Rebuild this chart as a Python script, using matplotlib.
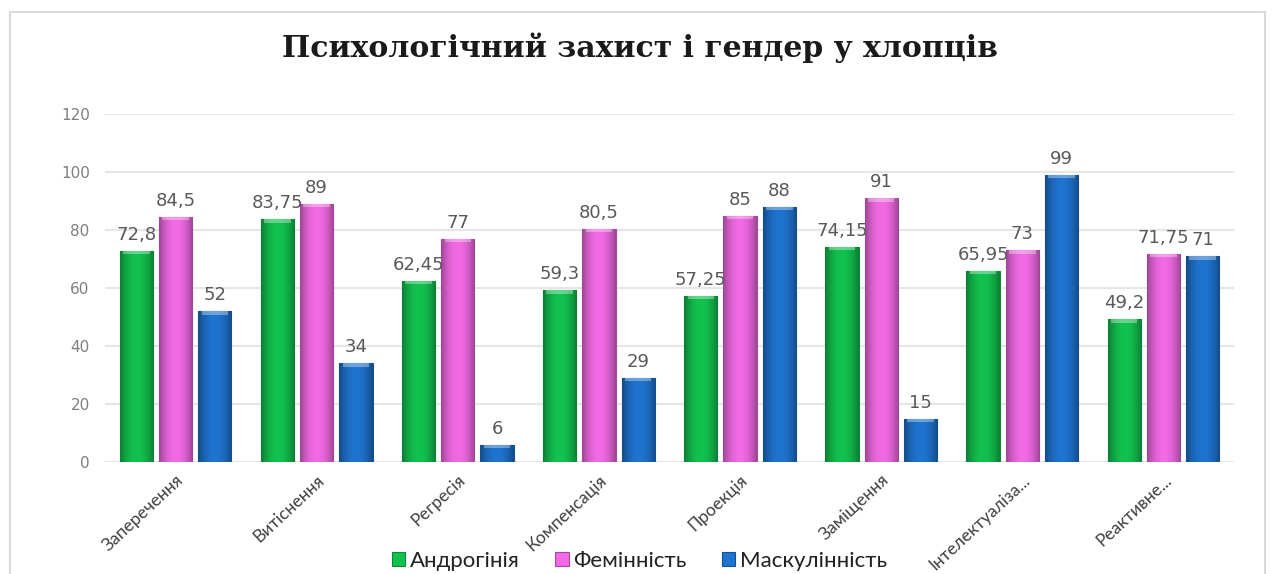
import matplotlib
matplotlib.use("Agg")
import matplotlib.pyplot as plt
import numpy as np
from matplotlib.patches import Rectangle
from matplotlib.colors import to_rgb

categories = ["Заперечення", "Витіснення", "Регресія", "Компенсація", "Проекція",
              "Заміщення", "Інтелектуаліза...", "Реактивне..."]
androgyny = [72.8, 83.75, 62.45, 59.3, 57.25, 74.15, 65.95, 49.2]
femininity = [84.5, 89, 77, 80.5, 85, 91, 73, 71.75]
masculinity = [52, 34, 6, 29, 88, 15, 99, 71]
series_names = ["Андрогінія", "Фемінність", "Маскулінність"]
colors = ["#12c24f", "#f26ae4", "#1f74d0"]
yticks = [0, 20, 40, 60, 80, 100, 120]
title = "Психологічний захист і гендер у хлопців"


def fmt(v):
    s = ("%g" % v).replace(".", ",")
    return s


fig = plt.figure(figsize=(12.79, 5.74), dpi=100)
fig.patch.set_facecolor("white")
fig.patches.append(Rectangle((10 / 1279, -0.1), (1265 - 10) / 1279, 1.1 - 12 / 574,
                             transform=fig.transFigure, fill=False,
                             edgecolor="#d9d9d9", linewidth=1.5))

ax = fig.add_axes([105 / 1279, 1 - 462 / 574, (1234 - 105) / 1279, (462 - 114) / 574])
x = np.arange(len(categories))
width = 0.235
offset = 0.278
data = [androgyny, femininity, masculinity]

for i, (vals, c, name) in enumerate(zip(data, colors, series_names)):
    bars = ax.bar(x + (i - 1) * offset, vals, width, color=c, label=name,
                  edgecolor=tuple(v * 0.7 for v in to_rgb(c)), linewidth=0.8, zorder=2)
    base = np.array(to_rgb(c))
    shade = np.linspace(-1, 1, 64)
    k = 1 - 0.35 * shade ** 2
    grad = np.clip(base[None, :] * k[:, None], 0, 1)[None, :, :]
    for b in bars:
        bx, by = b.get_x(), b.get_y()
        bw, bh = b.get_width(), b.get_height()
        im = ax.imshow(grad, extent=(bx, bx + bw, by, by + bh), aspect="auto",
                       zorder=2.1, interpolation="bicubic")
        im.set_clip_path(b)
        ax.bar(bx + bw / 2, min(1.2, bh), bw * 0.8, bottom=by + bh - min(1.2, bh),
               color="white", alpha=0.35, linewidth=0, zorder=2.2)
        ax.annotate(fmt(b.get_height()), (bx + bw / 2, by + bh), xytext=(0, 5),
                    textcoords="offset points", ha="center", va="bottom",
                    fontsize=13, color="#595959", family="DejaVu Sans", zorder=3)

ax.set_xlim(-0.5, len(categories) - 0.5)
ax.set_ylim(0, 120)
ax.set_yticks(yticks)
ax.set_yticklabels([str(t) for t in yticks], color="#7f7f7f", fontsize=11,
                   family="DejaVu Sans")
ax.yaxis.grid(True, color="#e6e6e6", linewidth=1.5, zorder=0)
ax.set_axisbelow(True)
ax.tick_params(axis="y", length=0, pad=11)
ax.tick_params(axis="x", length=0, pad=7)
ax.set_xticks(x)
ax.set_xticklabels(categories, rotation=43, ha="right", va="top", rotation_mode="anchor",
                   fontsize=12.5, color="#404040", family="Lato")
for s in ax.spines.values():
    s.set_visible(False)
ax.set_facecolor("none")

fig.text(0.5, 1 - 48 / 574, title, ha="center", va="center", fontsize=21.5,
         fontweight="bold", family="DejaVu Serif", color="#1a1a1a")

leg = fig.legend(loc="lower center", bbox_to_anchor=(0.5, -0.03), ncol=3, frameon=False,
                 prop={"family": "Lato", "size": 16}, handlelength=0.6, handleheight=0.6,
                 handletextpad=0.2, columnspacing=1.6)
for t in leg.get_texts():
    t.set_color("#222222")

fig.savefig("out.png", dpi=100, facecolor="white")
